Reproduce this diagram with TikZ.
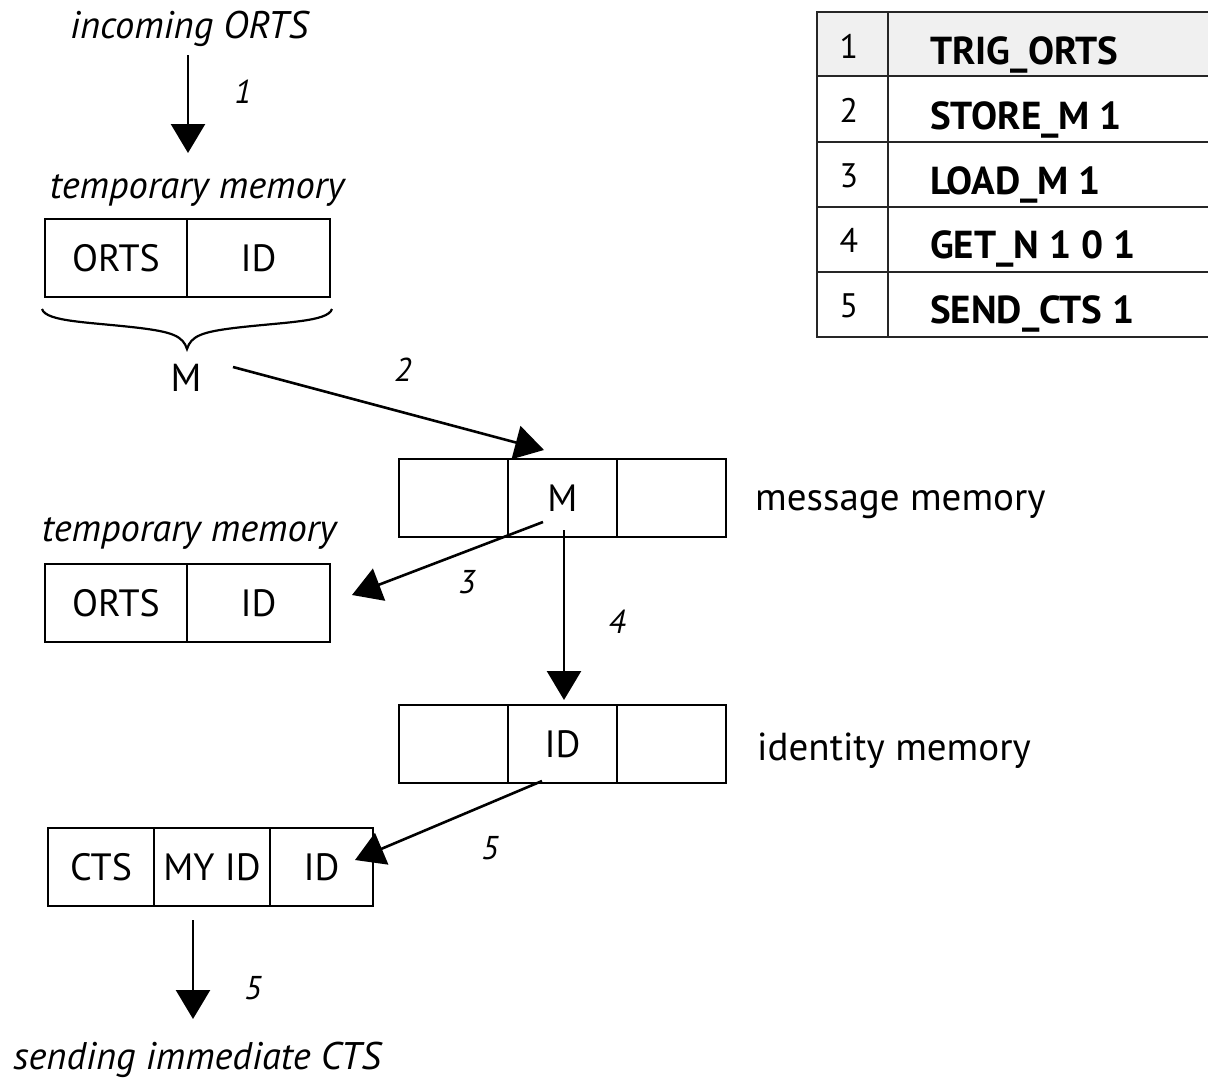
\documentclass[tikz,border=0pt]{standalone}
\usepackage{fontspec}
\setmainfont{PT Sans}
\usetikzlibrary{arrows.meta}
\begin{document}
\begin{tikzpicture}[x=1pt,y=-1pt,
  cell/.style={draw, line width=2.6pt, minimum height=78pt, inner sep=0pt, font=\fontsize{38}{42}\selectfont},
  lbl/.style={font=\itshape\fontsize{38.5}{44}\selectfont, inner sep=0pt, anchor=base},
  plain/.style={font=\fontsize{39}{44}\selectfont, inner sep=0pt, anchor=base},
  num/.style={font=\itshape\fontsize{33}{36}\selectfont, inner sep=0pt},
  arr/.style={line width=2.6pt, -{Triangle[length=29pt,width=34pt]}},
  tline/.style={line width=2.6pt, black!85},
  tnum/.style={font=\fontsize{34}{36}\selectfont, inner sep=0pt, anchor=base},
  ttxt/.style={font=\bfseries\fontsize{39}{42}\selectfont, inner sep=0pt, anchor=base west},
]
\useasboundingbox (0,0) rectangle (1208,1080);

% --- table ---
\fill[black!6] (817,12) rectangle (1208,76);
\draw[tline] (1208,12) -- (817,12) -- (817,337) -- (1208,337);
\foreach \yy in {76,142,207,272} \draw[tline] (817,\yy) -- (1208,\yy);
\draw[tline] (888,12) -- (888,337);
\node[tnum] (n1) at (849,58) {1};
\node[tnum] (n2) at (849,122) {2};
\node[tnum] (n3) at (849,187) {3};
\node[tnum] (n4) at (849,252) {4};
\node[tnum] (n5) at (849,317) {5};
\node[ttxt] (c1) at (930,64) {TRIG\_ORTS};
\node[ttxt] (c2) at (930,129) {STORE\_M 1};
\node[ttxt] (c3) at (930,194) {LOAD\_M 1};
\node[ttxt] (c4) at (930,258) {GET\_N 1 0 1};
\node[ttxt] (c5) at (930,323) {SEND\_CTS 1};

% --- texts ---
\node[lbl] (inc) at (189,38) {incoming ORTS};
\node[lbl] (tmA) at (197,198) {temporary memory};
\node[lbl] (tmB) at (189,541) {temporary memory};
\node[plain, anchor=base west] (mm) at (755,510) {message memory};
\node[plain, anchor=base west] (im) at (757,760) {identity memory};
\node[lbl] (send) at (197,1069) {sending immediate CTS};
\node[plain] (M) at (186,391) {M};

% --- boxes ---
\node[cell, minimum width=142pt] (a1) at (116,258) {ORTS};
\node[cell, minimum width=143pt] (a2) at (258.5,258) {ID};
\node[cell, minimum width=142pt] (b1) at (116,603) {ORTS};
\node[cell, minimum width=143pt] (b2) at (258.5,603) {ID};
\node[cell, minimum width=109pt] (m1) at (453.5,498) {};
\node[cell, minimum width=109pt] (m2) at (562.5,498) {M};
\node[cell, minimum width=109pt] (m3) at (671.5,498) {};
\node[cell, minimum width=109pt] (i1) at (453.5,744) {};
\node[cell, minimum width=109pt] (i2) at (562.5,744) {ID};
\node[cell, minimum width=109pt] (i3) at (671.5,744) {};
\node[cell, minimum width=106pt] (s1) at (101,867) {CTS};
\node[cell, minimum width=116pt] (s2) at (212,867) {MY ID};
\node[cell, minimum width=103pt] (s3) at (321.5,867) {ID};

% --- brace ---
\draw[line width=2.2pt] (42,309) .. controls (46,322) and (90,322) .. (140,328)
  .. controls (172,332) and (183,336) .. (187,349)
  .. controls (191,336) and (202,332) .. (234,328)
  .. controls (284,322) and (328,322) .. (332,309);

% --- arrow end points ---
\coordinate (p1s) at (188,55);  \coordinate (p1e) at (188,153);
\coordinate (p2s) at (233,367); \coordinate (p2e) at (544,450);
\coordinate (p3s) at (543,522); \coordinate (p3e) at (352,595);
\coordinate (p4s) at (564,530); \coordinate (p4e) at (564,700);
\coordinate (p5s) at (542,781); \coordinate (p5e) at (355,860);
\coordinate (p6s) at (193,920); \coordinate (p6e) at (193,1019);

\draw[arr] (p1s) -- (p1e);
\draw[arr] (p2s) -- (p2e);
\draw[arr] (p3s) -- (p3e);
\draw[arr] (p4s) -- (p4e);
\draw[arr] (p5s) -- (p5e);
\draw[arr] (p6s) -- (p6e);

% --- step numbers ---
\node[num] (l1) at (243,92) {1};
\node[num] (l2) at (403,370) {2};
\node[num] (l3) at (467,582) {3};
\node[num] (l4) at (617,622) {4};
\node[num] (l5) at (490,848) {5};
\node[num] (l6) at (253,988) {5};
\end{tikzpicture}
\end{document}
